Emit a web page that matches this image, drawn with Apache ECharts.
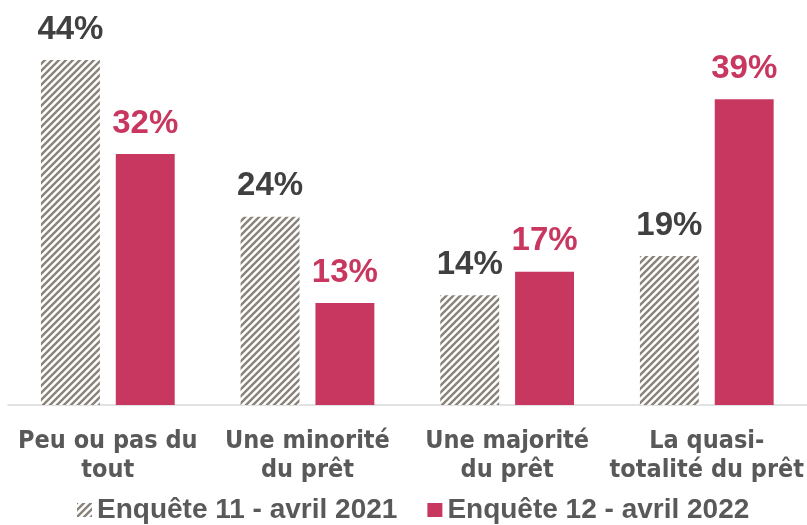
<!DOCTYPE html>
<html>
<head>
<meta charset="utf-8">
<script src="https://cdn.jsdelivr.net/npm/echarts@6/dist/echarts.min.js"></script>
<style>
html,body{margin:0;padding:0;background:#fff;}
#chart{width:807px;height:525px;}
</style>
</head>
<body>
<div id="chart"></div>
<script>
// données
const categories = ["Peu ou pas du\ntout", "Une minorité\ndu prêt", "Une majorité\ndu prêt", "La quasi-\ntotalité du prêt"];
const nomSerie1 = "Enquête 11 - avril 2021";
const nomSerie2 = "Enquête 12 - avril 2022";
const valeurs2021 = [44, 24, 14, 19];
const valeurs2022 = [32, 13, 17, 39];

// motif hachuré pour la première série
function makeHatch(){
    let c = document.createElement('canvas');
    c.width = 7;
    c.height = 7;
    let ctx = c.getContext('2d');
    ctx.fillStyle = '#ffffff';
    ctx.fillRect(0, 0, 7, 7);
    ctx.strokeStyle = '#8a837a';
    ctx.lineWidth = 2.4;
    ctx.beginPath();
    for (let k = -2; k <= 2; k++){
        ctx.moveTo(k*7 - 1, 8);
        ctx.lineTo(k*7 + 8, -1);
    }
    ctx.stroke();
    return c;
}

const hatch = {image: makeHatch(), repeat: 'repeat'};
const rose = '#c8375f';

let myChart = echarts.init(document.getElementById('chart'));
let option = {
    animation: false,
    grid: {left: 8, right: 0, top: 13, bottom: 120},
    legend: {
        bottom: -4,
        left: 72,
        itemWidth: 15,
        itemHeight: 14,
        itemGap: 30,
        icon: 'rect',
        textStyle: {
            fontFamily: 'Liberation Sans',
            fontWeight: 'bold',
            fontSize: 28,
            color: '#595959'
        },
        data: [nomSerie1, nomSerie2]
    },
    xAxis: {
        type: 'category',
        data: categories,
        axisLine: {lineStyle: {color: '#d9d9d9', width: 1.5}},
        axisTick: {show: false},
        axisLabel: {
            interval: 0,
            margin: 22,
            fontFamily: 'DejaVu Sans Condensed',
            fontWeight: 'bold',
            fontSize: 25,
            lineHeight: 29,
            color: '#595959'
        }
    },
    yAxis: {
        type: 'value',
        min: 0,
        max: 50,
        show: false,
        splitLine: {show: false}
    },
    series: [{
        name: nomSerie1,
        type: 'bar',
        data: valeurs2021,
        barGap: '27%',
        barCategoryGap: '33%',
        itemStyle: {color: hatch},
        label: {
            show: true,
            position: 'top',
            distance: 14,
            formatter: '{c}%',
            fontFamily: 'Liberation Sans',
            fontWeight: 'bold',
            fontSize: 33,
            color: '#404040'
        }
    }, {
        name: nomSerie2,
        type: 'bar',
        data: valeurs2022,
        itemStyle: {color: rose},
        label: {
            show: true,
            position: 'top',
            distance: 14,
            formatter: '{c}%',
            fontFamily: 'Liberation Sans',
            fontWeight: 'bold',
            fontSize: 33,
            color: rose
        }
    }]
};
myChart.setOption(option);
</script>
</body>
</html>
